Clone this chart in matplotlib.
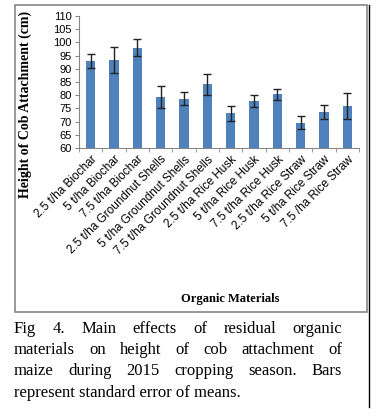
import matplotlib.pyplot as plt
from matplotlib.patches import Rectangle
from matplotlib.lines import Line2D

categories = ["2.5 t/ha Biochar", "5 t/ha Biochar", "7.5 t/ha Biochar",
              "2.5 t/ha Groundnut Shells", "5 t/ha Groundnut Shells",
              "7.5 t/ha Groundnut Shells", "2.5 t/ha Rice Husk",
              "5 t/ha Rice Husk", "7.5 t/ha Rice Husk", "2.5 t/ha Rice Straw",
              "5 t/ha Rice Straw", "7.5 /ha Rice Straw"]
heights = [93.0, 93.3, 98.0, 79.3, 78.7, 84.1, 73.1, 77.7, 80.3, 69.6, 73.6, 75.9]
errors = [2.6, 4.8, 3.2, 4.3, 2.4, 4.0, 2.8, 2.3, 2.0, 2.5, 2.8, 5.1]

caption_lines = ["Fig 4. Main effects of residual organic",
                 "materials on height of cob attachment of",
                 "maize during 2015 cropping season. Bars",
                 "represent standard error of means."]

W, H = 380, 419
fig = plt.figure(figsize=(3.8, 4.19), dpi=100)
ax = fig.add_axes([79 / W, 1 - 148 / H, 280 / W, 132 / H])

x = list(range(len(categories)))
ax.bar(x, heights, width=0.4, color="#4F81BD", zorder=2)
ax.errorbar(x, heights, yerr=errors, fmt="none", ecolor="#222222",
            elinewidth=1, capsize=3, capthick=1, zorder=3)

ax.set_xlim(-0.5, len(categories) - 0.5)
ax.set_ylim(60, 110)
ax.set_yticks(range(60, 111, 5))
ax.tick_params(axis="y", labelsize=8, length=3, color="#888888", pad=2)
for lab in ax.get_yticklabels():
    lab.set_family("Liberation Sans")

ax.set_xticks(x)
ax.set_xticklabels(categories, rotation=45, ha="right", rotation_mode="anchor",
                   fontsize=8.5, family="Liberation Sans")
ax.tick_params(axis="x", which="major", length=0, pad=4)
ax.set_xticks([i - 0.5 for i in range(len(categories) + 1)], minor=True)
ax.tick_params(axis="x", which="minor", length=3, color="#888888")

for s in ["top", "right"]:
    ax.spines[s].set_visible(False)
for s in ["left", "bottom"]:
    ax.spines[s].set_color("#888888")
    ax.spines[s].set_linewidth(0.8)

fig.text(25 / W, 1 - 104 / H, "Height of Cob Attachment (cm)", rotation=90,
         ha="center", va="center", fontsize=10, fontweight="bold",
         family="Liberation Serif")
fig.text(230 / W, 1 - 299 / H, "Organic Materials", ha="center", va="center",
         fontsize=9, fontweight="bold", family="Liberation Serif")

# outer frame of the chart
fig.add_artist(Rectangle((15 / W, 1 - 312 / H), 352 / W, 307 / H,
                         transform=fig.transFigure, fill=False,
                         edgecolor="#888888", linewidth=1.2))
fig.add_artist(Line2D([368.5 / W, 368.5 / W], [1 - 5 / H, 1 - 407 / H],
                      transform=fig.transFigure, color="black", linewidth=1))

# justified caption
fig.canvas.draw()
renderer = fig.canvas.get_renderer()
left, right = 14, 342
baselines = [333, 354, 375, 397]
for i, line in enumerate(caption_lines):
    words = line.split()
    y = 1 - baselines[i] / H
    if i == len(caption_lines) - 1:
        fig.text(left / W, y, line, ha="left", va="baseline", fontsize=12,
                 family="Liberation Serif")
        continue
    texts = [fig.text(0, y, w, ha="left", va="baseline", fontsize=12,
                      family="Liberation Serif") for w in words]
    widths = [t.get_window_extent(renderer).width for t in texts]
    gap = (right - left - sum(widths)) / (len(words) - 1)
    pos = left
    for t, w in zip(texts, widths):
        t.set_x(pos / W)
        pos += w + gap

fig.savefig("out.png", dpi=100)
